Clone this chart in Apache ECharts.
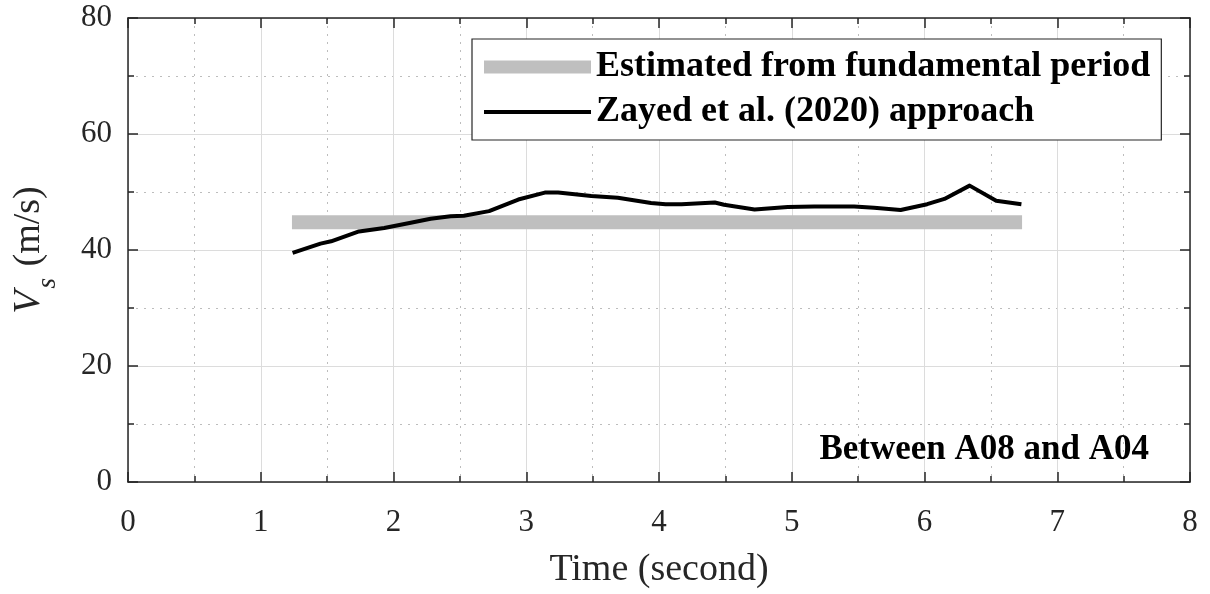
<!DOCTYPE html>
<html>
<head>
<meta charset="utf-8">
<script src="https://cdn.jsdelivr.net/npm/echarts@6/dist/echarts.min.js"></script>
<style>html,body{margin:0;padding:0;background:#fff;}#c{width:1210px;height:594px;}</style>
</head>
<body>
<div id="c"></div>
<script>
// Data
var zayedTime = [1.24, 1.45, 1.53, 1.74, 1.93, 2.13, 2.28, 2.43, 2.53, 2.72, 2.94, 3.14, 3.24, 3.49, 3.69, 3.94, 4.05, 4.17, 4.42, 4.49, 4.72, 4.97, 5.17, 5.47, 5.62, 5.82, 6.02, 6.15, 6.34, 6.54, 6.73];
var zayedVs   = [39.5, 41.1, 41.5, 43.2, 43.8, 44.7, 45.4, 45.8, 45.9, 46.7, 48.7, 49.9, 49.9, 49.3, 49.0, 48.1, 47.9, 47.9, 48.2, 47.8, 47.0, 47.4, 47.5, 47.5, 47.3, 46.9, 47.9, 48.8, 51.1, 48.5, 47.9];
var fundTime = [1.235, 6.735];
var fundVs = [44.8, 44.8];
var xTicks = [0, 1, 2, 3, 4, 5, 6, 7, 8];
var yTicks = [0, 20, 40, 60, 80];
var seriesNames = ['Estimated from fundamental period', 'Zayed et al. (2020) approach'];
var annotation = 'Between A08 and A04';

function pairs(xs, ys) { return xs.map(function (x, i) { return [x, ys[i]]; }); }

var serif = '"Liberation Serif", "Times New Roman", serif';
var axisColor = '#262626';

function baseAxis(min, max, interval, show, pos) {
  return {
    type: 'value', min: min, max: max, interval: interval, position: pos,
    axisLine: { show: true, onZero: false, lineStyle: { color: axisColor, width: 1.5 } },
    axisTick: { show: true, inside: true, length: 10, lineStyle: { color: axisColor, width: 1.5 } },
    minorTick: { show: true, splitNumber: 2, length: 6, lineStyle: { color: axisColor, width: 1.5 } },
    splitLine: { show: show, lineStyle: { color: '#dcdcdc', width: 1 } },
    minorSplitLine: { show: show, lineStyle: { color: '#bdbdbd', width: 1, type: [2, 6] } },
    axisLabel: { show: show, color: axisColor, fontFamily: serif, fontSize: 31 }
  };
}

var xMain = baseAxis(xTicks[0], xTicks[xTicks.length - 1], 1, true, 'bottom');
xMain.axisLabel.margin = 25;
xMain.name = 'Time (second)';
xMain.nameLocation = 'middle';
xMain.nameGap = 69;
xMain.nameTextStyle = { color: axisColor, fontFamily: serif, fontSize: 38 };
var xTop = baseAxis(xTicks[0], xTicks[xTicks.length - 1], 1, false, 'top');

var yMain = baseAxis(yTicks[0], yTicks[yTicks.length - 1], 20, true, 'left');
yMain.axisLabel.margin = 16;
yMain.name = '{v|V}{s|s}{t| (m/s)}';
yMain.nameLocation = 'middle';
yMain.nameGap = 67;
yMain.nameRotate = 90;
yMain.nameTextStyle = {
  color: axisColor, fontFamily: serif, fontSize: 38,
  rich: {
    v: { fontFamily: serif, fontSize: 38, fontStyle: 'italic', color: axisColor },
    s: { fontFamily: serif, fontSize: 27, fontStyle: 'italic', color: axisColor, padding: [36, 2, 0, 2] },
    t: { fontFamily: serif, fontSize: 38, color: axisColor }
  }
};
var yRight = baseAxis(yTicks[0], yTicks[yTicks.length - 1], 20, false, 'right');

var chart = echarts.init(document.getElementById('c'), null, { renderer: 'canvas' });
chart.setOption({
  animation: false,
  backgroundColor: '#ffffff',
  grid: { left: 128, right: 20, top: 18, bottom: 112, containLabel: false, outerBoundsMode: 'none' },
  xAxis: [xMain, xTop],
  yAxis: [yMain, yRight],
  title: {
    text: annotation, right: 56, top: 427,
    textStyle: { fontFamily: serif, fontSize: 35, fontWeight: 'bold', color: '#000' }
  },
  legend: {
    orient: 'vertical', left: 472, top: 39,
    padding: [10, 11, 10, 12], itemGap: 9,
    itemWidth: 107, itemHeight: 35,
    backgroundColor: '#ffffff', borderColor: axisColor, borderWidth: 1.2, borderRadius: 0,
    textStyle: { fontFamily: serif, fontSize: 36, fontWeight: 'bold', color: '#000', lineHeight: 35 },
    itemStyle: { borderWidth: 0 },
    data: [
      { name: seriesNames[0], icon: 'path://M0,0H107V13H0Z', itemStyle: { color: '#bfbfbf', borderWidth: 0 } },
      { name: seriesNames[1], icon: 'path://M0,0H107V4H0Z', itemStyle: { color: '#000000', borderWidth: 0 } }
    ]
  },
  series: [
    {
      name: seriesNames[0], type: 'line', xAxisIndex: 0, yAxisIndex: 0,
      data: pairs(fundTime, fundVs), showSymbol: false, symbol: 'none',
      lineStyle: { color: '#bfbfbf', width: 14, cap: 'butt' },
      itemStyle: { color: '#bfbfbf' }, z: 3
    },
    {
      name: seriesNames[1], type: 'line', xAxisIndex: 0, yAxisIndex: 0,
      data: pairs(zayedTime, zayedVs), showSymbol: false, symbol: 'none',
      lineStyle: { color: '#000000', width: 4, join: 'round' },
      itemStyle: { color: '#000000' }, z: 4
    }
  ]
});
</script>
</body>
</html>
